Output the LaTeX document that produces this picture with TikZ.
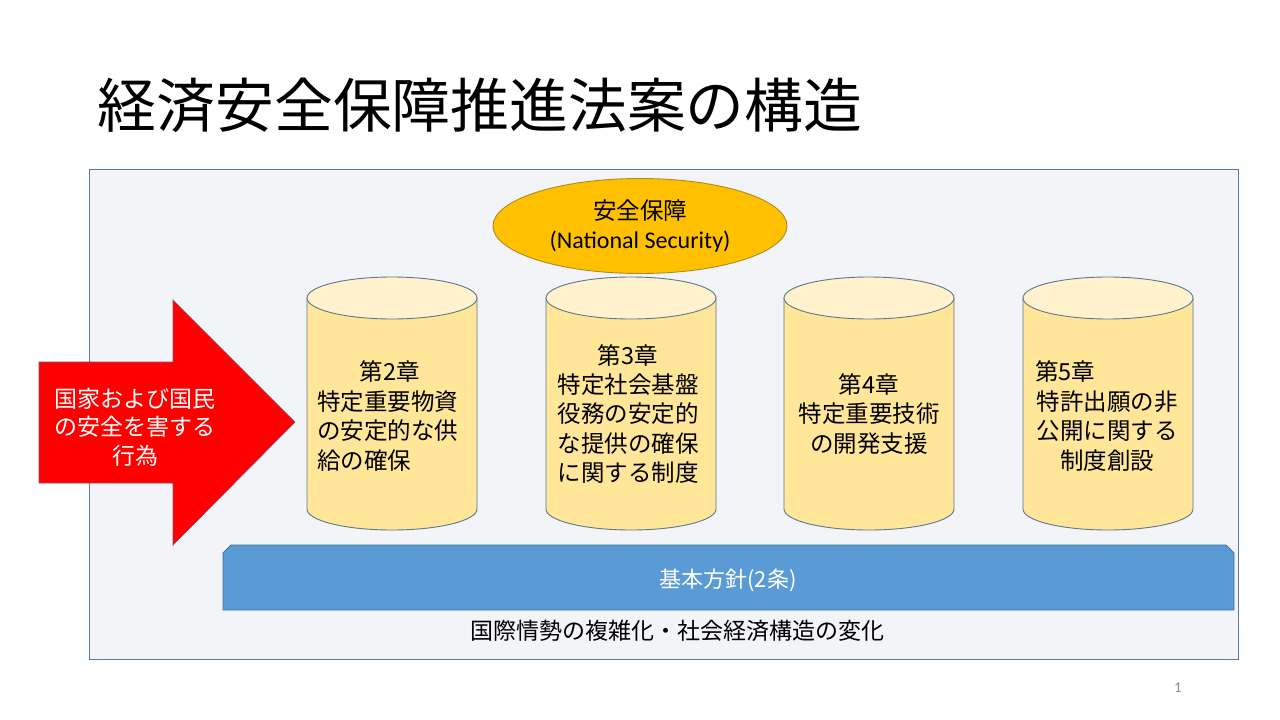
\documentclass[tikz,border=0pt]{standalone}
\usepackage{fontspec}
\setmainfont{Carlito}
\newfontfamily\cjk{Noto Sans CJK JP}
\usetikzlibrary{shapes.geometric}
\definecolor{boxfill}{HTML}{F2F4F8}
\definecolor{boxline}{HTML}{5A7A9C}
\definecolor{cylbodyc}{HTML}{FFE699}
\definecolor{cyltopc}{HTML}{FFF2CC}
\definecolor{cylline}{HTML}{5F7690}
\definecolor{gold}{HTML}{FFC000}
\definecolor{goldline}{HTML}{B08A20}
\definecolor{barfill}{HTML}{5B9BD5}
\definecolor{barline}{HTML}{41719C}
\definecolor{arrowline}{HTML}{8A4A70}
\definecolor{pagegray}{HTML}{8C8C8C}
\tikzset{
  cylbody/.style={fill=cylbodyc, draw=cylline, line width=0.9pt},
  cyltop/.style={fill=cyltopc, draw=cylline, line width=0.9pt},
  cyltext/.style={font=\cjk\fontsize{23.5}{29.3}\selectfont, inner sep=0pt, text=black},
}
\newcommand\drum[2]{%
  \path[cylbody] (#1-85,-298) -- (#1-85,-509) arc[start angle=180,end angle=360,x radius=85,y radius=21] -- (#1+85,-298) -- cycle;
  \path[cyltop] (#1,-298) ellipse[x radius=85, y radius=21];
  \coordinate (#2) at (#1,-404);
}
\begin{document}
\begin{tikzpicture}[x=1pt,y=1pt]
\useasboundingbox (0,0) rectangle (1280,-720);
\fill[white] (0,0) rectangle (1280,-720);
% title
\node[font=\cjk\fontsize{58.8}{60}\selectfont, inner sep=0pt] (title) at (480,-105) {経済安全保障推進法案の構造};
% outer box
\draw[fill=boxfill, draw=boxline, line width=0.9pt] (89,-169) rectangle (1238,-659);
% ellipse
\node[ellipse, fill=gold, draw=goldline, line width=0.9pt, minimum width=294, minimum height=95, inner sep=0pt, align=center, font=\fontsize{24}{29}\selectfont] (sec) at (640,-226) {{\cjk\fontsize{23.5}{29}\selectfont 安全保障}\\(National Security)};
% cylinders
\drum{392}{c2}
\drum{631}{c3}
\drum{869}{c4}
\drum{1108}{c5}
\node[cyltext] (c2h) at (390,-372) {第2章};
\node[cyltext, anchor=west, align=left] (c2t) at (317,-431) {特定重要物資\\の安定的な供\\給の確保};
\node[cyltext, align=center] (c3t) at (628,-414) {第3章\\特定社会基盤\\役務の安定的\\な提供の確保\\に関する制度};
\node[cyltext, align=center] (c4t) at (869,-414) {第4章\\特定重要技術\\の開発支援};
\node[cyltext, anchor=west] (c5h) at (1035,-372) {第5章};
\node[cyltext, align=center] (c5t) at (1107,-431) {特許出願の非\\公開に関する\\制度創設};
% red arrow
\path[fill=red, draw=arrowline, line width=0.7pt] (39,-362) -- (173,-362) -- (173,-300) -- (295,-422) -- (173,-545) -- (173,-483) -- (39,-483) -- cycle;
\node[font=\cjk\fontsize{23}{28.5}\selectfont, text=white, align=center, inner sep=0pt] (threat) at (135,-427) {国家および国民\\の安全を害する\\行為};
% blue bar
\path[fill=barfill, draw=barline, line width=0.9pt] (223,-553) -- (231,-545) -- (1226,-545) -- (1234,-553) -- (1234,-610) -- (223,-610) -- cycle;
\node[font=\cjk\fontsize{22}{26}\selectfont, text=white, inner sep=0pt] (basic) at (728,-580) {基本方針(2条)};
% bottom text
\node[font=\cjk\fontsize{23}{26}\selectfont, inner sep=0pt] (env) at (677,-631) {国際情勢の複雑化・社会経済構造の変化};
% page number
\node[font=\fontsize{15}{17}\selectfont, text=pagegray, inner sep=0pt] (page) at (1178,-688) {1};
\end{tikzpicture}
\end{document}
